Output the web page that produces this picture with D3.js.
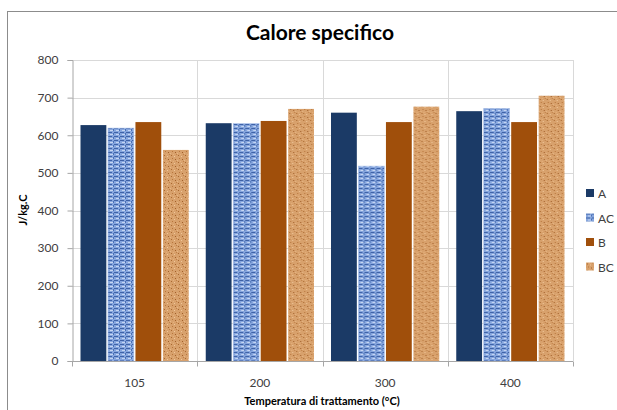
<!DOCTYPE html>
<html lang="it">
<head>
  <meta charset="UTF-8">
  <title>Calore specifico</title>
  <script src="https://d3js.org/d3.v7.min.js"></script>
  <style>
    body { margin: 0; background: #fff; font-family: "Lato", "Open Sans", sans-serif; }
    .grid line { stroke: #d9d9d9; }
    .axis path, .axis line { stroke: #a6a6a6; }
    .axis text { fill: #404040; font-size: 12px; font-family: "Lato", sans-serif; }
  </style>
</head>
<body>
<script>
  // data
  const temps = ["105", "200", "300", "400"];
  const series = ["A", "AC", "B", "BC"];
  const valA  = [627, 632, 660, 664];
  const valAC = [619, 631, 518, 671];
  const valB  = [635, 638, 635, 635];
  const valBC = [561, 670, 676, 705];
  const yTicks = [0, 100, 200, 300, 400, 500, 600, 700, 800];

  const values = { A: valA, AC: valAC, B: valB, BC: valBC };
  const W = 617, H = 410;
  const margin = {top: 60, right: 44, bottom: 49, left: 72};

  const svg = d3.select("body").append("svg")
    .attr("width", W).attr("height", H);

  // textures
  const defs = svg.append("defs");
  const pAC = defs.append("pattern").attr("id", "texAC")
    .attr("patternUnits", "userSpaceOnUse").attr("width", 6).attr("height", 4);
  pAC.append("rect").attr("width", 6).attr("height", 4).attr("fill", "#86a6de");
  pAC.append("rect").attr("x", 0).attr("y", 0).attr("width", 4).attr("height", 1).attr("fill", "#3f63a8");
  pAC.append("rect").attr("x", 5).attr("y", 1).attr("width", 1).attr("height", 2).attr("fill", "#4a6fb3");
  pAC.append("rect").attr("x", 2).attr("y", 2).attr("width", 3).attr("height", 1).attr("fill", "#c6d6f2");

  const pBC = defs.append("pattern").attr("id", "texBC")
    .attr("patternUnits", "userSpaceOnUse").attr("width", 7).attr("height", 7);
  pBC.append("rect").attr("width", 7).attr("height", 7).attr("fill", "#d8a16c");
  [[1,1,"#a8672f"],[4,2,"#efc69a"],[2,4,"#b8763c"],[5,5,"#a15f2a"],[0,6,"#e8b886"],[6,0,"#c08048"],[3,0,"#e6b17c"]]
    .forEach(([x, y, c]) => pBC.append("rect").attr("x", x).attr("y", y)
      .attr("width", 1).attr("height", 1).attr("fill", c));

  const colors = { A: "#1b3a66", AC: "url(#texAC)", B: "#a04f0b", BC: "url(#texBC)" };

  // chart border
  svg.append("rect")
    .attr("x", 7.5).attr("y", 11.5).attr("width", 640).attr("height", 420)
    .attr("fill", "none").attr("stroke", "#8c8c8c");

  const x0 = d3.scaleBand().domain(temps)
    .range([margin.left, W - margin.right]).paddingInner(0).paddingOuter(0);
  const x1 = d3.scaleBand().domain(series)
    .range([8.5, x0.bandwidth() - 8.5]).paddingInner(0.06);
  const y = d3.scaleLinear().domain([0, 800])
    .range([H - margin.bottom, margin.top]);

  // gridlines
  svg.append("g").attr("class", "grid")
    .selectAll("line").data(yTicks.slice(1)).join("line")
    .attr("x1", margin.left).attr("x2", W - margin.right)
    .attr("y1", d => Math.round(y(d)) + 0.5).attr("y2", d => Math.round(y(d)) + 0.5);
  svg.append("g").attr("class", "grid")
    .selectAll("line").data(temps).join("line")
    .attr("x1", d => Math.round(x0(d) + x0.bandwidth()) + 0.5)
    .attr("x2", d => Math.round(x0(d) + x0.bandwidth()) + 0.5)
    .attr("y1", margin.top).attr("y2", H - margin.bottom);

  // bars
  const groups = svg.append("g").selectAll("g").data(temps).join("g")
    .attr("transform", d => `translate(${x0(d)},0)`);
  groups.selectAll("rect")
    .data((t, i) => series.map(s => ({s, v: values[s][i]})))
    .join("rect")
    .attr("x", d => x1(d.s))
    .attr("width", x1.bandwidth())
    .attr("y", d => y(d.v))
    .attr("height", d => y(0) - y(d.v))
    .attr("fill", d => colors[d.s])
    .attr("stroke", d => d.s === "AC" ? "#a9c0ea" : "none")
    .attr("stroke-width", 0.6);

  // axes
  const yAxis = svg.append("g").attr("class", "axis")
    .attr("transform", `translate(${margin.left + 0.5},0)`)
    .call(d3.axisLeft(y).tickValues(yTicks).tickSize(5).tickPadding(9));
  yAxis.selectAll(".tick line").attr("stroke", "#a6a6a6");

  const xAxis = svg.append("g").attr("class", "axis")
    .attr("transform", `translate(0,${Math.round(y(0)) + 0.5})`)
    .call(d3.axisBottom(x0).tickSize(0).tickPadding(17));
  xAxis.select(".domain").attr("d", `M${margin.left},0H${W - margin.right}`);
  xAxis.selectAll(".tick text").style("font-size", "12px");
  // category boundary ticks
  xAxis.selectAll(".bound").data([temps[0]].concat(temps)).join("line")
    .attr("class", "bound")
    .attr("x1", (d, i) => i === 0 ? margin.left + 0.5 : Math.round(x0(d) + x0.bandwidth()) + 0.5)
    .attr("x2", (d, i) => i === 0 ? margin.left + 0.5 : Math.round(x0(d) + x0.bandwidth()) + 0.5)
    .attr("y1", 0).attr("y2", 5).attr("stroke", "#a6a6a6");

  // title
  svg.append("text")
    .attr("x", 320).attr("y", 40)
    .attr("text-anchor", "middle")
    .style("font-size", "21px").style("font-weight", "bold").attr("fill", "#000")
    .text("Calore specifico");

  svg.append("text")
    .attr("x", 322).attr("y", 405)
    .attr("text-anchor", "middle")
    .style("font-size", "11px").style("font-weight", "bold").attr("fill", "#000")
    .text("Temperatura di trattamento (°C)");

  svg.append("text")
    .attr("transform", "translate(27,210) rotate(-90)")
    .attr("text-anchor", "middle")
    .style("font-size", "11px").style("font-weight", "bold").attr("fill", "#000")
    .text("J/kg.C");

  // legend
  const legend = svg.append("g").attr("transform", "translate(586,189)")
    .selectAll("g").data(series).join("g")
    .attr("transform", (d, i) => `translate(0,${i * 24.5})`);
  legend.append("rect").attr("width", 8).attr("height", 8)
    .attr("fill", d => colors[d]);
  legend.append("text").attr("x", 12).attr("y", 9)
    .style("font-size", "12px").attr("fill", "#404040")
    .text(d => d);
</script>
</body>
</html>
